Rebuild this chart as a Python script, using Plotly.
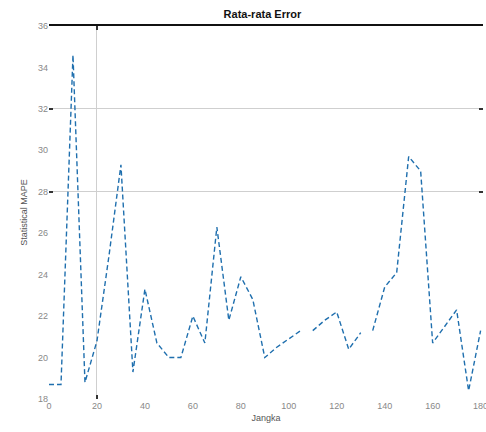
import plotly.graph_objects as go

# Data
x_vals = [0, 5, 10, 15, 20, 25, 30, 35, 40, 45, 50, 55, 60, 65, 70, 75, 80, 85, 90,
          95, 100, 105, 107.5, 110, 115, 120, 125, 130, 132.5, 135, 140, 145, 150,
          155, 160, 165, 170, 175, 180]
y_vals = [18.7, 18.7, 34.6, 18.8, 20.8, 24.9, 29.3, 19.3, 23.3, 20.7, 20.0, 20.0, 22.0,
          20.7, 26.3, 21.8, 23.9, 22.8, 20.0, 20.5, 20.9, 21.3, None, 21.3, 21.8, 22.2,
          20.4, 21.2, None, 21.3, 23.4, 24.1, 29.7, 29.0, 20.7, 21.5, 22.3, 18.4, 21.3]

x_ticks = [0, 20, 40, 60, 80, 100, 120, 140, 160, 180]
y_ticks = [18, 20, 22, 24, 26, 28, 30, 32, 34, 36]
y_grid = [28, 32, 36]
x_grid = [20]

title_text = "Rata-rata Error"
x_title = "Jangka"
y_title = "Statistical MAPE"

x_range = [0, 181]
y_range = [18, 36]

fig = go.Figure()
fig.add_trace(go.Scatter(
    x=x_vals, y=y_vals, mode="lines", connectgaps=False, showlegend=False,
    line=dict(color="#1f6fae", width=1.4, dash="5px,3px"),
))
# helper traces so overlay axes are drawn
fig.add_trace(go.Scatter(x=[None], y=[None], xaxis="x2", yaxis="y", showlegend=False, hoverinfo="skip"))
fig.add_trace(go.Scatter(x=[None], y=[None], xaxis="x3", yaxis="y", showlegend=False, hoverinfo="skip"))
fig.add_trace(go.Scatter(x=[None], y=[None], xaxis="x", yaxis="y2", showlegend=False, hoverinfo="skip"))

tick_font = dict(family="Liberation Sans, Arial, sans-serif", size=9, color="#888888")
title_font = dict(family="Liberation Sans, Arial, sans-serif", size=9, color="#555555")

fig.update_layout(
    width=486, height=432,
    margin=dict(l=49, r=3, t=26, b=33, autoexpand=False),
    paper_bgcolor="white", plot_bgcolor="white",
    font=dict(family="Liberation Sans, Arial, sans-serif"),
    title=dict(text="<b>" + title_text + "</b>", x=0.54, xanchor="center", y=0.968, yanchor="middle",
               font=dict(size=11, color="#111111")),
    xaxis=dict(range=x_range, tickvals=x_ticks, ticks="", showgrid=False, zeroline=False,
               showline=False, tickfont=tick_font, ticklabeloverflow="allow", automargin=False,
               title=dict(text=x_title, font=title_font, standoff=4)),
    yaxis=dict(range=y_range, tickvals=y_ticks, ticks="", showgrid=False, zeroline=False,
               showline=False, tickfont=tick_font, automargin=False,
               title=dict(text=y_title, font=title_font, standoff=8)),
    xaxis2=dict(range=x_range, overlaying="x", side="top", anchor="y", tickvals=x_grid,
                showticklabels=False, showgrid=True, gridcolor="#cfcfcf", gridwidth=1,
                ticks="inside", ticklen=4, tickwidth=1.5, tickcolor="#333333",
                showline=True, linecolor="#111111", linewidth=2, zeroline=False),
    xaxis3=dict(range=x_range, overlaying="x", side="bottom", anchor="y", tickvals=x_grid,
                showticklabels=False, showgrid=False, ticks="inside", ticklen=4,
                tickwidth=1.5, tickcolor="#333333", showline=False, zeroline=False),
    yaxis2=dict(range=y_range, overlaying="y", side="left", anchor="x", tickvals=y_grid,
                showticklabels=False, showgrid=True, gridcolor="#cfcfcf", gridwidth=1,
                ticks="inside", ticklen=4, tickwidth=2, tickcolor="#333333",
                mirror="ticks", showline=False, zeroline=False),
)

fig.write_html("out.html")
